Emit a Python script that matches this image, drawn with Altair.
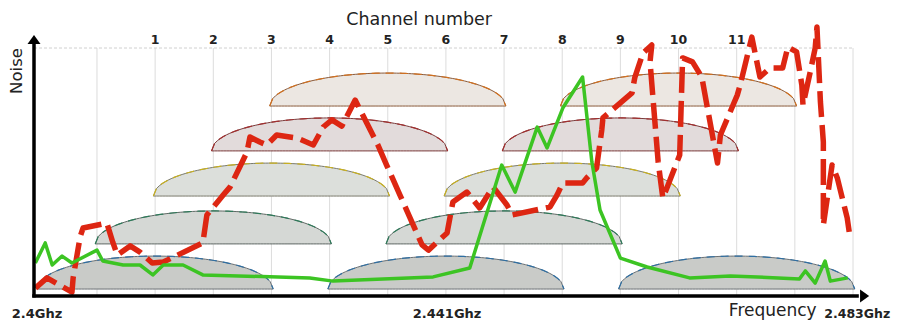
import altair as alt
import pandas as pd
import numpy as np

# ---------------- data ----------------
channels = list(range(1, 12))
channel_labels = [str(c) for c in channels]
grid_positions = list(range(0, 14))
freq_labels = ["2.4Ghz", "2.441Ghz", "2.483Ghz"]

# noise traces (x in channel units, y in noise units 0-100)
green_x = [-1.06, -0.89, -0.77, -0.60, -0.43, 0.00, 0.10, 0.45, 0.74, 0.96,
           1.14, 1.48, 1.82, 3.66, 4.06, 5.78, 6.41, 6.96, 7.19, 7.57,
           7.74, 8.01, 8.35, 8.51, 8.65, 9.00, 9.46, 10.19, 10.89, 12.08,
           12.18, 12.35, 12.52, 12.61, 12.91]
green_y = [13.3, 21.4, 12.5, 16.1, 13.3, 18.5, 14.1, 12.5, 12.5, 8.5,
           12.5, 12.5, 8.5, 7.3, 6.0, 7.7, 11.3, 52.8, 41.9, 68.1,
           59.7, 75.8, 88.3, 54.0, 34.7, 15.3, 11.7, 7.3, 8.1, 6.9,
           10.1, 5.2, 14.1, 6.0, 7.3]

red_x = [-1.06, -0.86, -0.43, -0.41, -0.29, -0.24, 0.17, 0.27, 0.35, 0.57,
         0.74, 0.95, 1.14, 1.82, 1.89, 2.17, 2.29, 2.58, 2.63, 2.80,
         2.92, 3.09, 3.44, 3.72, 3.89, 4.04, 4.21, 4.44, 4.83, 4.98,
         5.21, 5.59, 5.70, 6.02, 6.12, 6.36, 6.58, 6.81, 7.05, 7.14,
         7.79, 7.91, 8.01, 8.35, 8.42, 8.59, 8.68, 8.70, 9.20, 9.25,
         9.39, 9.54, 9.51, 9.65, 9.73, 9.82, 10.02, 10.07, 10.24, 10.40,
         10.67, 10.72, 11.01, 11.06, 11.26, 11.40, 11.57, 11.79, 11.88, 12.03,
         12.12, 12.14, 12.26, 12.35, 12.38, 12.44, 12.49, 12.49, 12.64, 12.73,
         12.90, 12.95]
red_y = [3.2, 7.3, 1.6, 7.3, 23.8, 27.4, 29.4, 21.8, 16.5, 20.2,
         17.7, 13.3, 13.7, 21.4, 32.7, 40.7, 44.0, 58.1, 64.1, 62.1,
         60.9, 64.9, 63.7, 60.9, 68.1, 71.0, 68.5, 79.0, 60.9, 52.8,
         40.7, 20.6, 18.5, 25.4, 37.9, 41.9, 35.5, 44.0, 36.7, 32.7,
         35.9, 40.7, 45.6, 45.6, 47.6, 51.6, 66.9, 71.8, 81.9, 88.3,
         98.0, 101.2, 94.4, 54.0, 39.5, 44.8, 56.9, 96.0, 94.4, 88.3,
         53.6, 64.9, 81.0, 85.1, 104.4, 88.3, 91.9, 91.9, 100.4, 98.4,
         85.1, 77.0, 89.9, 100.0, 108.5, 78.2, 62.1, 28.6, 52.8, 47.6,
         31.5, 23.4]

# ---------------- styles ----------------
X_MIN = -1.083
row_base = [2.8, 21.0, 40.3, 58.5, 76.6]
hump_height = 13.3
hump_half_width = 2.03
row_fill = ["#c9cbc8", "#d5d8d5", "#dcdfdb", "#e2dbdb", "#ece7e2"]
row_stroke = ["#6a7074", "#5f6864", "#7a7a6c", "#7a3a3a", "#8a5a3a"]
row_accent = ["#2f6fa3", "#2e7a5a", "#c8b020", "#a03030", "#d07020"]

# hump shapes built from channel centres
rows = []
t = np.linspace(-1, 1, 81)
for c in channels:
    r = (c - 1) % 5
    for k, tv in enumerate(t):
        rows.append({
            "ch": c,
            "k": k,
            "x": float(c + hump_half_width * tv),
            "base": row_base[r],
            "top": float(row_base[r] + hump_height * np.sqrt(max(0.0, 1 - tv * tv))),
            "fill": row_fill[r],
            "stroke": row_stroke[r],
            "accent": row_accent[r],
        })
hump_df = pd.DataFrame(rows)

green_df = pd.DataFrame({"x": green_x, "y": green_y, "i": list(range(len(green_x)))})
red_df = pd.DataFrame({"x": red_x, "y": red_y, "i": list(range(len(red_x)))})

xs = alt.Scale(domain=[X_MIN, 13], nice=False, zero=False)
ys = alt.Scale(domain=[0, 100], nice=False, zero=False)


def X(f):
    return alt.X(f, scale=xs, axis=None)


def Y(f):
    return alt.Y(f, scale=ys, axis=None)


grid = alt.Chart(pd.DataFrame({"x": grid_positions, "y": [0] * 14, "y2": [100] * 14})).mark_rule(
    color="#dcdcdc", strokeWidth=1
).encode(x=X("x:Q"), y=Y("y:Q"), y2="y2:Q")

top_line = alt.Chart(pd.DataFrame({"x": [X_MIN], "x2": [13], "y": [100]})).mark_rule(
    color="#d0d0d0", strokeWidth=1, strokeDash=[3, 2]
).encode(x=X("x:Q"), x2="x2:Q", y=Y("y:Q"))

humps = alt.Chart(hump_df).mark_area(strokeWidth=1, opacity=1).encode(
    x=X("x:Q"), y=Y("top:Q"), y2="base:Q",
    fill=alt.Fill("fill:N", scale=None),
    stroke=alt.Stroke("stroke:N", scale=None),
    detail="ch:N",
)

hump_tops = alt.Chart(hump_df).mark_line(strokeWidth=1.2, strokeDash=[8, 6]).encode(
    x=X("x:Q"), y=Y("top:Q"),
    stroke=alt.Stroke("accent:N", scale=None),
    detail="ch:N",
    order="k:Q",
)

red = alt.Chart(red_df).mark_line(
    color="#dd2612", strokeWidth=5.5, strokeDash=[26, 8], strokeCap="butt", strokeJoin="round"
).encode(x=X("x:Q"), y=Y("y:Q"), order="i:Q")

green = alt.Chart(green_df).mark_line(
    color="#3cc423", strokeWidth=3.5, strokeJoin="round"
).encode(x=X("x:Q"), y=Y("y:Q"), order="i:Q")

y_axis = alt.Chart(pd.DataFrame({"x": [X_MIN], "y": [-0.6], "y2": [102]})).mark_rule(
    color="black", strokeWidth=3.5
).encode(x=X("x:Q"), y=Y("y:Q"), y2="y2:Q")
x_axis = alt.Chart(pd.DataFrame({"x": [X_MIN - 0.03], "x2": [13.1], "y": [0]})).mark_rule(
    color="black", strokeWidth=3.5
).encode(x=X("x:Q"), x2="x2:Q", y=Y("y:Q"))
y_arrow = alt.Chart(pd.DataFrame({"x": [X_MIN], "y": [103.4]})).mark_point(
    shape="M-1,0.7L0,-0.7L1,0.7Z", filled=True, color="black", size=169, opacity=1
).encode(x=X("x:Q"), y=Y("y:Q"))
x_arrow = alt.Chart(pd.DataFrame({"x": [13.2], "y": [0]})).mark_point(
    shape="M-0.7,-1L0.7,0L-0.7,1Z", filled=True, color="black", size=169, opacity=1
).encode(x=X("x:Q"), y=Y("y:Q"))

ch_text = alt.Chart(pd.DataFrame({"x": channels, "label": channel_labels})).mark_text(
    font="DejaVu Sans", fontWeight="bold", fontSize=12.5, color="#222", baseline="middle"
).encode(x=X("x:Q"), y=alt.value(-8), text="label:N")

freq_text = alt.Chart(pd.DataFrame({"x": [-1.03, 6.02], "label": freq_labels[:2]})).mark_text(
    font="DejaVu Sans", fontWeight="bold", fontSize=13, color="#222", baseline="middle"
).encode(x=X("x:Q"), y=alt.value(266), text="label:N")

freq_text_end = alt.Chart(pd.DataFrame({"x": [13.64], "label": freq_labels[2:]})).mark_text(
    font="DejaVu Sans", fontWeight="bold", fontSize=12.5, color="#222", baseline="middle",
    align="right"
).encode(x=X("x:Q"), y=alt.value(266), text="label:N")

title_top = alt.Chart(pd.DataFrame({"x": [5.54], "label": ["Channel number"]})).mark_text(
    font="DejaVu Sans", fontSize=17.5, color="#222", baseline="middle"
).encode(x=X("x:Q"), y=alt.value(-28), text="label:N")

title_freq = alt.Chart(pd.DataFrame({"x": [11.62], "label": ["Frequency"]})).mark_text(
    font="DejaVu Sans", fontSize=17, color="#222", baseline="middle"
).encode(x=X("x:Q"), y=alt.value(263), text="label:N")

title_noise = alt.Chart(pd.DataFrame({"x": [-1.37], "label": ["Noise"]})).mark_text(
    font="DejaVu Sans", fontSize=16.5, color="#222", baseline="middle", angle=270
).encode(x=X("x:Q"), y=alt.value(23), text="label:N")

chart = alt.layer(
    grid, top_line, humps, hump_tops, red, green,
    y_axis, x_axis, y_arrow, x_arrow,
    ch_text, freq_text, freq_text_end, title_top, title_freq, title_noise,
).properties(
    width=819, height=248,
    autosize=alt.AutoSizeParams(type="none"),
    padding={"left": 26, "top": 40, "right": 39, "bottom": 26},
    background="white",
).configure_view(stroke=None)

chart.save("out.html", embed_options={"renderer": "svg", "actions": False})
